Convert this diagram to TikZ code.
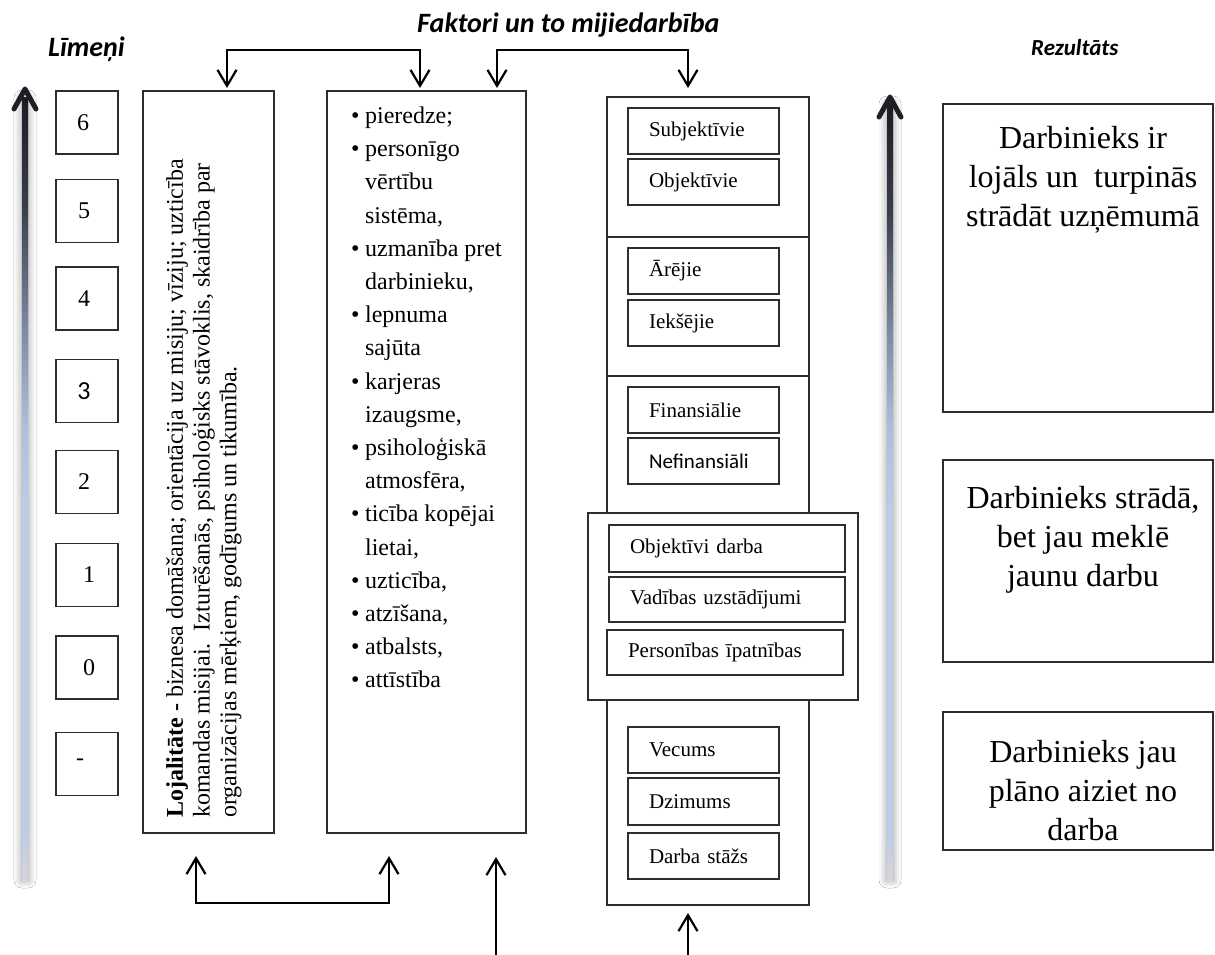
\documentclass[tikz,border=0pt]{standalone}
\usepackage{fontspec}
\setmainfont{Liberation Serif}
\newfontfamily\headfont{Carlito}
\usetikzlibrary{arrows.meta,shadows.blur,calc}

\definecolor{sTop}{HTML}{1C1C22}
\definecolor{sDark}{HTML}{3A3F4C}
\definecolor{sMid}{HTML}{7F8CA6}
\definecolor{sLight}{HTML}{AEBFDD}
\definecolor{sPale}{HTML}{BCCBE8}
\definecolor{sBot}{HTML}{D6D6D8}
\definecolor{arrowdark}{HTML}{1E1E26}
\definecolor{frameline}{HTML}{2E2E2E}

% shading of the two vertical scale shafts (0bp = bottom, 100bp = top)
\pgfdeclareverticalshading{shaftshade}{100bp}{color(0bp)=(sBot); color(25bp)=(sBot); color(28bp)=(sPale); color(49bp)=(sPale); color(54bp)=(sLight); color(60bp)=(sMid); color(68bp)=(sDark); color(75bp)=(sTop); color(100bp)=(sTop)}

\begin{document}
\begin{tikzpicture}[x=1pt,y=-1pt,
  box/.style={draw=frameline, line width=1.3pt, inner sep=0pt, outer sep=0pt},
  lvl/.style={box, minimum width=62pt, minimum height=63pt},
  numtxt/.style={inner sep=0pt, font=\fontsize{24}{28}\selectfont},
  colbox/.style={box, anchor=north west},
  sub/.style={box, anchor=north west, minimum width=151pt, minimum height=46pt,
    text width=109pt, inner xsep=21pt, align=left, font=\fontsize{21}{25}\selectfont},
  wsub/.style={sub, minimum width=236pt, text width=194pt},
  res/.style={box, anchor=north west, minimum width=270pt},
  restxt/.style={align=center, anchor=north, inner sep=0pt, font=\fontsize{32}{39}\selectfont},
  barb/.style={line width=2.2pt},
  conn/.style={barb, {Straight Barb[length=16pt,width=19pt]}-{Straight Barb[length=16pt,width=19pt]}},
  conn1/.style={barb, -{Straight Barb[length=16pt,width=19pt]}},
  heading/.style={inner sep=0pt, anchor=base west, font=\headfont\bfseries\itshape\fontsize{28}{32}\selectfont},
  shafthead/.style={line width=5pt, draw=arrowdark, line cap=round, line join=round},
  glow/.style={blur shadow={shadow xshift=0pt, shadow yshift=0pt, shadow blur radius=8pt, shadow opacity=45}},
]
\useasboundingbox[fill=white] (0,0) rectangle (1215,955);

% headings
\node[heading] (hLev) at (48,57) {Līmeņi};
\node[heading] (hFac) at (417,33) {Faktori un to mijiedarbība};
\node[heading, font=\headfont\bfseries\itshape\fontsize{23}{28}\selectfont] (hRes) at (1031,56) {Rezultāts};

% left scale shaft
\path[glow, fill=white] (22,98) rectangle (28,880);
\shade[shading=shaftshade] (22,98) rectangle (28,880);
\draw[shafthead] (14,109) -- (25,89) -- (36,109);

% right scale shaft
\path[glow, fill=white] (887,104) rectangle (893,880);
\shade[shading=shaftshade] (887,104) rectangle (893,880);
\draw[shafthead] (879,117) -- (890,97) -- (901,117);

% level boxes
\node[lvl] (l6) at (87,122.5) {};
\node[numtxt] at (83,122.5) {6};
\node[lvl] (l5) at (87,211) {};
\node[numtxt] at (84,211) {5};
\node[lvl] (l4) at (87,298.5) {};
\node[numtxt] at (84,298.5) {4};
\node[lvl] (l3) at (87,391) {};
\node[numtxt, font=\headfont\fontsize{26}{30}\selectfont] at (84,391) {3};
\node[lvl] (l2) at (87,482) {};
\node[numtxt] at (84,482) {2};
\node[lvl] (l1) at (87,575) {};
\node[numtxt] at (89,575) {1};
\node[lvl] (l0) at (87,667.5) {};
\node[numtxt] at (89,667.5) {0};
\node[lvl] (lm) at (87,764) {};
\node[numtxt] at (80,762) {-};

% definition box
\node[colbox, minimum width=131pt, minimum height=742pt] (lojal) at (143,91) {};
\node[rotate=90, anchor=north west, inner sep=0pt, align=left,
      font=\fontsize{24}{26.7}\selectfont] (lojtxt) at (166,818)
  {\textbf{Lojalitāte -} biznesa domāšana; orientācija uz misiju; vīziju; uzticība\\
   komandas misijai.\ \ Izturēšanās, psiholoģisks stāvoklis, skaidrība par\\
   organizācijas mērķiem, godīgums un tikumība.};

% factor list box
\node[colbox, minimum width=199pt, minimum height=742pt] (list) at (327,91) {};
\node[anchor=north west, inner sep=0pt, font=\fontsize{24}{33.2}\selectfont] (listtxt) at (351,100)
  {\begin{tabular}{@{}l@{\hspace{5.5pt}}l@{}}
   \textbullet & pieredze;\\
   \textbullet & personīgo\\
               & vērtību\\
               & sistēma,\\
   \textbullet & uzmanība pret\\
               & darbinieku,\\
   \textbullet & lepnuma\\
               & sajūta\\
   \textbullet & karjeras\\
               & izaugsme,\\
   \textbullet & psiholoģiskā\\
               & atmosfēra,\\
   \textbullet & ticība kopējai\\
               & lietai,\\
   \textbullet & uzticība,\\
   \textbullet & atzīšana,\\
   \textbullet & atbalsts,\\
   \textbullet & attīstība
   \end{tabular}};

% factor groups column
\node[colbox, minimum width=202pt, minimum height=416pt] (colA) at (607,97) {};
\draw[draw=frameline, line width=1.3pt] (607,237) -- (809,237);
\draw[draw=frameline, line width=1.3pt] (607,376) -- (809,376);
\node[sub] (s1) at (628,108) {Subjektīvie};
\node[sub] (s2) at (628,159) {Objektīvie};
\node[sub] (s3) at (628,248) {Ārējie};
\node[sub] (s4) at (628,300) {Iekšējie};
\node[sub] (s5) at (628,387) {Finansiālie};
\node[sub, font=\headfont\fontsize{21}{25}\selectfont] (s6) at (628,438) {Nefinansiāli};

\node[colbox, minimum width=270pt, minimum height=187pt] (wide) at (588,513) {};
\node[wsub, minimum height=47pt] (w1) at (609,525) {Objektīvi darba};
\node[wsub, minimum height=45pt] (w2) at (609,577) {Vadības uzstādījumi};
\node[wsub, minimum height=45pt] (w3) at (607,630) {Personības īpatnības};

\node[colbox, minimum width=202pt, minimum height=205pt] (colB) at (607,700) {};
\node[sub] (v1) at (628,727) {Vecums};
\node[sub, minimum height=47pt] (v2) at (628,778) {Dzimums};
\node[sub] (v3) at (628,833) {Darba stāžs};

% outcome boxes
\node[res, minimum height=308pt] (r1) at (943,104) {};
\node[restxt] at (1083,126) {Darbinieks ir\\lojāls un~ turpinās\\strādāt uzņēmumā};
\node[res, minimum height=202pt] (r2) at (943,460) {};
\node[restxt] at (1083,486) {Darbinieks strādā,\\bet jau meklē\\jaunu darbu};
\node[res, minimum height=138pt] (r3) at (943,712) {};
\node[restxt] at (1083,740) {Darbinieks jau\\plāno aiziet no\\darba};

% interaction connectors
\draw[conn] ([shift={(18.5,-3)}]lojal.north) -- ++(0,-38) -| ([shift={(-6.5,-3)}]list.north);
\draw[conn] ([shift={(70.5,-3)}]list.north) -- ++(0,-38) -| ([shift={(-20,-9)}]colA.north);
\draw[conn] ([shift={(-12.5,23)}]lojal.south) -- ++(0,47) -| ([shift={(-37.5,23)}]list.south);

\coordinate (inA) at (496,957);
\coordinate (inB) at (688,957);
\draw[conn1] (inA) -- ([shift={(69.5,24)}]list.south);
\draw[conn1] (inB) -- ([shift={(-20,8)}]colB.south);
\end{tikzpicture}
\end{document}
